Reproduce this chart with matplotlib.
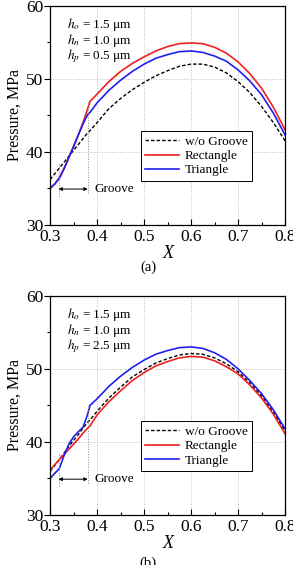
import numpy as np
import matplotlib
matplotlib.use("Agg")
import matplotlib.pyplot as plt

plt.rcParams['font.family'] = ['Liberation Serif', 'DejaVu Serif']
plt.rcParams['mathtext.fontset'] = 'stix'

# x positions (dimensionless X)
x = [0.3, 0.31, 0.32, 0.33, 0.34, 0.35, 0.36, 0.37, 0.38, 0.385, 0.4,
     0.425, 0.45, 0.475, 0.5, 0.525, 0.55, 0.575, 0.6, 0.625, 0.65,
     0.675, 0.7, 0.725, 0.75, 0.775, 0.8]

# panel (a): hp = 0.5 um
a_plain = [36.2, 37.0, 37.8, 38.6, 39.4, 40.2, 41.0, 41.8, 42.6, 42.9, 44.0,
           45.9, 47.3, 48.5, 49.5, 50.4, 51.1, 51.7, 52.0, 52.0, 51.6,
           50.8, 49.6, 48.1, 46.2, 44.0, 41.5]
a_rect = [35.0, 35.6, 36.5, 37.8, 39.3, 40.8, 42.3, 44.0, 45.9, 46.9, 47.9,
          49.6, 51.0, 52.1, 53.0, 53.8, 54.4, 54.8, 54.9, 54.8, 54.3,
          53.5, 52.3, 50.7, 48.7, 46.1, 43.0]
a_tri = [35.0, 35.6, 36.4, 37.7, 39.2, 40.7, 42.3, 43.8, 45.1, 45.4, 46.7,
         48.4, 49.8, 51.0, 52.0, 52.8, 53.3, 53.7, 53.8, 53.6, 53.1,
         52.4, 51.2, 49.7, 47.8, 45.3, 42.3]

# panel (b): hp = 2.5 um
b_plain = [36.0, 36.8, 37.6, 38.5, 39.4, 40.2, 41.0, 41.9, 42.7, 43.0, 44.2,
           46.0, 47.5, 48.9, 49.9, 50.8, 51.4, 51.9, 52.1, 52.0, 51.5,
           50.7, 49.6, 48.1, 46.3, 44.1, 41.5]
b_rect = [36.1, 36.9, 37.6, 38.3, 39.0, 39.7, 40.4, 41.2, 41.9, 42.2, 43.7,
          45.5, 47.0, 48.4, 49.5, 50.4, 51.0, 51.5, 51.7, 51.6, 51.1,
          50.3, 49.3, 47.8, 46.0, 43.8, 41.1]
b_tri = [35.0, 35.7, 36.4, 38.2, 39.7, 40.7, 41.4, 42.0, 43.8, 45.0, 45.9,
         47.6, 49.0, 50.2, 51.2, 52.0, 52.5, 52.9, 53.0, 52.8, 52.2,
         51.3, 50.0, 48.4, 46.6, 44.4, 41.8]

panels = [
    ("(a)", ["1.5", "1.0", "0.5"], a_plain, a_rect, a_tri, 47.0),
    ("(b)", ["1.5", "1.0", "2.5"], b_plain, b_rect, b_tri, 45.1),
]

fig = plt.figure(figsize=(2.93, 5.65), dpi=100)
axes_pos = [[0.171, 0.602, 0.802, 0.388], [0.171, 0.0885, 0.802, 0.388]]

for pos, (tag, hvals, plain, rect, tri, top_line) in zip(axes_pos, panels):
    ax = fig.add_axes(pos)
    ax.plot(x, plain, color='black', ls=(0, (2.5, 1.5)), lw=1.0, label='w/o Groove')
    ax.plot(x, rect, color='#ee2020', lw=1.2, label='Rectangle')
    ax.plot(x, tri, color='#2020ee', lw=1.2, label='Triangle')

    ax.set_xlim(0.3, 0.8)
    ax.set_ylim(30, 60)
    ax.set_xticks([0.3, 0.4, 0.5, 0.6, 0.7, 0.8])
    ax.set_xticks(np.arange(0.35, 0.8, 0.1), minor=True)
    ax.set_yticks([30, 40, 50, 60])
    ax.set_yticks([35, 45, 55], minor=True)
    ax.grid(True, which='major', color='#bbbbbb', ls=':', lw=0.7)
    ax.tick_params(axis='x', which='both', direction='in', labelsize=12.5, pad=3)
    ax.tick_params(axis='y', which='both', direction='out', labelsize=12.5, pad=1)
    ax.tick_params(which='major', length=4, width=0.8)
    ax.tick_params(which='minor', length=2.5, width=0.8)
    for s in ax.spines.values():
        s.set_linewidth(0.9)

    ax.set_xlabel('X', fontsize=13, style='italic', labelpad=0)
    ax.set_ylabel('Pressure, MPa', fontsize=11.5, labelpad=2)

    # groove marker
    ax.plot([0.38, 0.38], [34.4, top_line], color='#888888', ls=':', lw=0.7)
    ax.plot([0.318, 0.318], [34.0, 38.4], color='#888888', ls=':', lw=0.7)
    ax.annotate('', xy=(0.318, 34.9), xytext=(0.38, 34.9),
                arrowprops=dict(arrowstyle='<|-|>', color='black', lw=0.7,
                                mutation_scale=5, shrinkA=0, shrinkB=0))
    ax.text(0.395, 34.9, 'Groove', fontsize=9.5, va='center', ha='left')

    names = ['$h_o$', '$h_n$', '$h_p$']
    for i, (nm, v) in enumerate(zip(names, hvals)):
        ax.text(0.07, 0.915 - i * 0.072, nm + ' = ' + v + ' μm',
                transform=ax.transAxes, fontsize=9.5, va='center', ha='left')

    leg = ax.legend(loc='lower left', bbox_to_anchor=(0.385, 0.2), fontsize=9.5,
                    frameon=True, fancybox=False, framealpha=1, edgecolor='black',
                    handlelength=2.6, handletextpad=0.4, borderpad=0.35,
                    labelspacing=0.15, borderaxespad=0)
    leg.get_frame().set_linewidth(0.7)

fig.text(0.505, 0.527, '(a)', fontsize=10.5, ha='center', va='center')
fig.text(0.505, 0.003, '(b)', fontsize=10.5, ha='center', va='center')

fig.savefig('out.png', dpi=100)
